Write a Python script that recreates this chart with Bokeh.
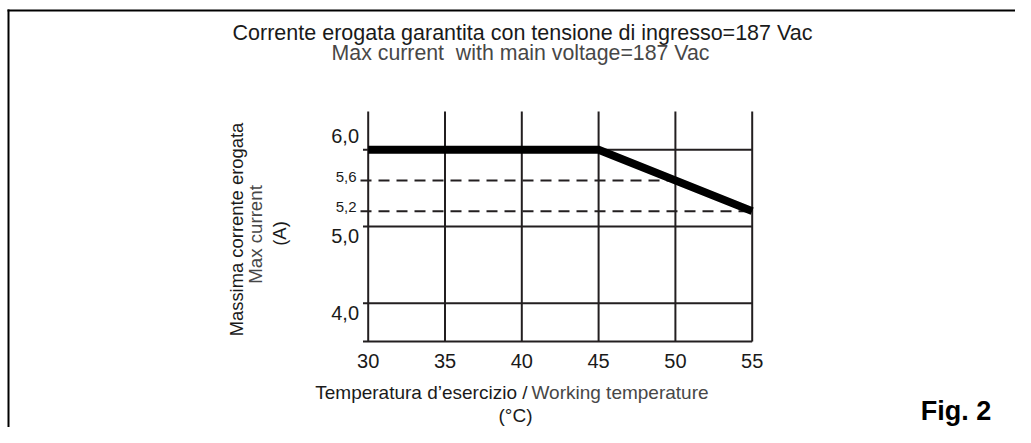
from math import pi
from bokeh.plotting import figure
from bokeh.models import Range1d
from bokeh.core.properties import value
from bokeh.embed import file_html
from bokeh.resources import INLINE

# ---------------- data ----------------
temps = [30, 35, 40, 45, 50, 55]
x_tick_labels = ["30", "35", "40", "45", "50", "55"]
y_major = [6.0, 5.0, 4.0]
y_major_labels = ["6,0", "5,0", "4,0"]
y_ref = [5.6, 5.2]
y_ref_labels = ["5,6", "5,2"]
ref_end_temp = [50, 55]
curve_temp = [30, 45, 55]
curve_current = [6.0, 6.0, 5.2]
y_floor, y_ceiling = 3.5, 6.5

title_it = "Corrente erogata garantita con tensione di ingresso=187 Vac"
title_en = "Max current\u00a0 with main voltage=187 Vac"
xlabel_it = "Temperatura d\u2019esercizio /"
xlabel_en = "Working temperature"
xlabel_unit = "(\u00b0C)"
ylabel_it = "Massima corrente erogata"
ylabel_en = "Max current"
ylabel_unit = "(A)"
fig_label = "Fig. 2"

# ---------------- layout ----------------
FW, FH = 1015, 427
SX, SY = 15.36, 76.7          # pixels per unit
x0 = 30 - 367.7 / SX
ytop = 6 + 149.3 / SY
BL = 0.38                     # baseline correction (fraction of font size)


def X(px):
    return x0 + px / SX


def Y(py):
    return ytop - py / SY


def TY(py, fs):
    return Y(py - BL * fs)


def TX(px, fs):
    return X(px - BL * fs)


BLACK = "#1a1a1a"
GREY = "#474747"
LINE = "#231f20"
FONT = value("Liberation Sans")

p = figure(width=FW, height=FH, output_backend="svg", toolbar_location=None,
           x_range=Range1d(x0, x0 + FW / SX), y_range=Range1d(ytop - FH / SY, ytop),
           x_axis_location=None, y_axis_location=None, min_border=0,
           outline_line_color=None, background_fill_color="white")
p.grid.visible = False

# border (top and left)
p.segment(x0=[X(7), X(8)], y0=[Y(10), Y(9)], x1=[X(1031), X(8)], y1=[Y(10), Y(443)],
          line_color="black", line_width=2)

# grid verticals
p.segment(x0=temps, y0=[y_floor] * len(temps), x1=temps, y1=[y_ceiling] * len(temps),
          line_color=LINE, line_width=2)
# horizontal solid lines + floor
xl = X(362.5)
hy = y_major + [y_floor]
p.segment(x0=[xl] * len(hy), y0=hy, x1=[temps[-1]] * len(hy), y1=hy,
          line_color=LINE, line_width=2)
# dashed reference lines
p.segment(x0=[X(360)] * len(y_ref), y0=y_ref, x1=ref_end_temp, y1=y_ref,
          line_color=LINE, line_width=2, line_dash="11 7")
# derating curve
p.line(curve_temp, curve_current, line_color="black", line_width=8,
       line_join="miter", line_cap="butt")

# x tick labels
p.text(x=temps, y=[TY(368, 20)] * len(temps), text=x_tick_labels, text_font=FONT,
       text_font_size="20px", text_align="center", text_baseline="alphabetic",
       text_color=BLACK)
# y tick labels
p.text(x=[X(358.5)] * len(y_major), y=y_major, text=y_major_labels, text_font=FONT,
       text_font_size="20px", text_align="right", text_baseline="alphabetic",
       y_offset=[-6 - BL * 20, 17 - BL * 20, 17 - BL * 20], text_color=BLACK)
p.text(x=[X(356)] * len(y_ref), y=y_ref, text=y_ref_labels, text_font=FONT,
       text_font_size="15px", text_align="right", text_baseline="alphabetic",
       y_offset=[2 - BL * 15, 2 - BL * 15], text_color=BLACK)

# titles
p.text(x=[X(522)], y=[TY(40.5, 21.5)], text=[title_it], text_font=FONT,
       text_font_size="21.5px", text_align="center", text_baseline="alphabetic",
       text_color=BLACK)
p.text(x=[X(520)], y=[TY(60.5, 21.3)], text=[title_en], text_font=FONT,
       text_font_size="21.3px", text_align="center", text_baseline="alphabetic",
       text_color=GREY)

# x label
p.text(x=[X(527)], y=[TY(399, 19)], text=[xlabel_it], text_font=FONT, text_font_size="19px",
       text_align="right", text_baseline="alphabetic", text_color=BLACK)
p.text(x=[X(531)], y=[TY(399, 19)], text=[xlabel_en], text_font=FONT, text_font_size="19px",
       text_align="left", text_baseline="alphabetic", text_color=GREY)
p.text(x=[X(515)], y=[TY(422.5, 19)], text=[xlabel_unit], text_font=FONT,
       text_font_size="19px", text_align="center", text_baseline="alphabetic",
       text_color=BLACK)

# y label (rotated)
p.text(x=[TX(242.5, 18.4)], y=[Y(229)], text=[ylabel_it], text_font=FONT,
       text_font_size="18.4px", text_align="center", text_baseline="alphabetic",
       angle=pi / 2, text_color=BLACK)
p.text(x=[TX(262.5, 18.7)], y=[Y(234)], text=[ylabel_en], text_font=FONT,
       text_font_size="18.7px", text_align="center", text_baseline="alphabetic",
       angle=pi / 2, text_color=GREY)
p.text(x=[TX(286, 18.5)], y=[Y(233)], text=[ylabel_unit], text_font=FONT,
       text_font_size="18.5px", text_align="center", text_baseline="alphabetic",
       angle=pi / 2, text_color=BLACK)

# figure label
p.text(x=[X(955.5)], y=[TY(420.5, 27)], text=[fig_label], text_font=FONT,
       text_font_size="27px", text_font_style="bold", text_align="center",
       text_baseline="alphabetic", text_color="black")

open("out.html", "w").write(file_html(p, INLINE))
